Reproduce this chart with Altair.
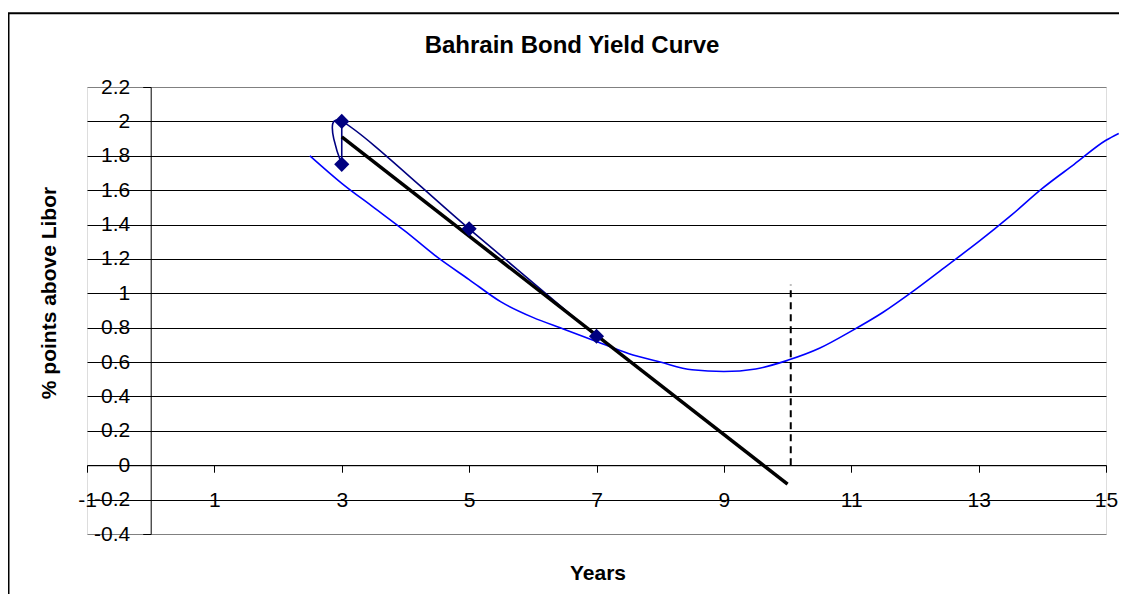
import altair as alt
import pandas as pd

# ---- data ----
# Bond observations (navy, smoothed line with diamond markers), in drawing order
bond_x = [3, 3, 5, 7]
bond_y = [1.75, 2.0, 1.375, 0.75]
bond_order = [0, 1, 2, 3]

# Fitted yield curve (blue)
curve_x = [2.5, 3.0, 3.5, 4.0, 4.5, 5.0, 5.5, 6.0, 6.5, 7.0, 7.5, 8.0, 8.5, 9.0,
           9.5, 10.0, 10.5, 11.0, 11.5, 12.0, 12.5, 13.0, 13.5, 14.0, 14.5, 15.0, 15.2]
curve_y = [1.80, 1.64, 1.50, 1.36, 1.21, 1.08, 0.95, 0.86, 0.79, 0.72, 0.65, 0.60, 0.555, 0.545,
           0.56, 0.61, 0.68, 0.78, 0.89, 1.02, 1.16, 1.30, 1.45, 1.61, 1.75, 1.89, 1.93]

# Linear trend (black, thick)
trend_x = [3, 10]
trend_y = [1.91, -0.11]

# Vertical dashed marker
dash_x = [10.05]
dash_y0 = [0.0]
dash_y1 = [1.05]

# Vertical connector between the two 3-year observations
conn_x = [3, 3]
conn_y = [2.0, 1.75]

x_ticks = [-1, 1, 3, 5, 7, 9, 11, 13, 15]
y_ticks = [-0.4, -0.2, 0, 0.2, 0.4, 0.6, 0.8, 1, 1.2, 1.4, 1.6, 1.8, 2, 2.2]

FONT = "Liberation Sans"
W, H = 1019, 447
XDOM, YDOM = [-1, 15], [-0.4, 2.2]

bond = pd.DataFrame({"x": bond_x, "y": bond_y, "o": bond_order})
curve = pd.DataFrame({"x": curve_x, "y": curve_y})
trend = pd.DataFrame({"x": trend_x, "y": trend_y})
dash = pd.DataFrame({"x": dash_x, "y": dash_y0, "y2": dash_y1})
conn = pd.DataFrame({"x": conn_x, "y": conn_y})

xscale = alt.Scale(domain=XDOM, nice=False, zero=False)
yscale = alt.Scale(domain=YDOM, nice=False, zero=False)

x_off = -(0 - YDOM[0]) / (YDOM[1] - YDOM[0]) * H   # x axis sits at y = 0
y_off = -(0 - XDOM[0]) / (XDOM[1] - XDOM[0]) * W   # y axis sits at x = 0

x_axis = alt.Axis(
    values=x_ticks, tickCount=30, labelExpr="'' + datum.value", offset=x_off,
    domainColor="black", domainWidth=1, tickColor="black", tickSize=7,
    labelFont=FONT, labelFontSize=21, labelColor="black",
    labelBaseline="alphabetic", labelPadding=34, labelFlush=False,
    labelOverlap=False, labelBound=False, grid=False,
    title="Years", titleFont=FONT, titleFontSize=21, titleFontWeight="bold",
    titleColor="black", titleX=510.5, titleY=113.8, titleBaseline="alphabetic",
    titleAlign="center",
)
y_axis = alt.Axis(
    values=y_ticks, tickCount=30, labelExpr="'' + datum.value", offset=y_off,
    domainColor="black", domainWidth=1, tickColor="black", tickSize=8,
    labelFont=FONT, labelFontSize=21, labelColor="black", labelPadding=13,
    labelFlush=False, labelOverlap=False, labelBound=False,
    grid=True, gridWidth=1,
    gridColor=alt.condition("datum.value > 2.1 || datum.value < -0.3",
                            alt.value("#808080"), alt.value("black")),
    title="% points above Libor", titleFont=FONT, titleFontSize=21,
    titleFontWeight="bold", titleColor="black", titleAngle=270,
    titleX=-94.7, titleY=205.5, titleBaseline="alphabetic", titleAlign="center",
)

base_curve = alt.Chart(curve).mark_line(color="#0000FF", strokeWidth=1.6,
                                        interpolate="monotone").encode(
    x=alt.X("x:Q", scale=xscale, axis=x_axis),
    y=alt.Y("y:Q", scale=yscale, axis=y_axis),
)

bond_line = alt.Chart(bond).mark_line(color="#000080", strokeWidth=1.6,
                                      interpolate="cardinal").encode(
    x=alt.X("x:Q", scale=xscale), y=alt.Y("y:Q", scale=yscale), order="o:Q")

conn_line = alt.Chart(conn).mark_line(color="#000080", strokeWidth=1.6).encode(
    x=alt.X("x:Q", scale=xscale), y=alt.Y("y:Q", scale=yscale))

bond_pts = alt.Chart(bond).mark_point(shape="diamond", filled=True, color="#000080",
                                      size=230, opacity=1).encode(
    x=alt.X("x:Q", scale=xscale), y=alt.Y("y:Q", scale=yscale))

trend_line = alt.Chart(trend).mark_line(color="black", strokeWidth=3.5).encode(
    x=alt.X("x:Q", scale=xscale), y=alt.Y("y:Q", scale=yscale))

dash_rule = alt.Chart(dash).mark_rule(color="black", strokeWidth=2,
                                      strokeDash=[7, 5]).encode(
    x=alt.X("x:Q", scale=xscale), y=alt.Y("y:Q", scale=yscale), y2="y2:Q")

border = alt.Chart(dash).mark_rect(fill=None, stroke="black", strokeWidth=2).encode(
    x=alt.value(-78.5), x2=alt.value(2000), y=alt.value(-73.7), y2=alt.value(2000))

chart = alt.layer(
    border, base_curve, bond_line, conn_line, trend_line, dash_rule, bond_pts
).properties(
    width=W, height=H,
    autosize=alt.AutoSizeParams(type="none"),
    padding={"left": 79, "top": 79, "right": 13, "bottom": 60},
    title=alt.Title("Bahrain Bond Yield Curve", font=FONT, fontSize=24,
                    fontWeight="bold", color="black", anchor="middle",
                    baseline="alphabetic", offset=0, dx=-24.5, dy=64.7),
).configure_view(
    fill="#C0C0C0", stroke="#808080", strokeWidth=1,
).configure(background="white")

chart.save("out.html", embed_options={"renderer": "svg", "actions": False})
